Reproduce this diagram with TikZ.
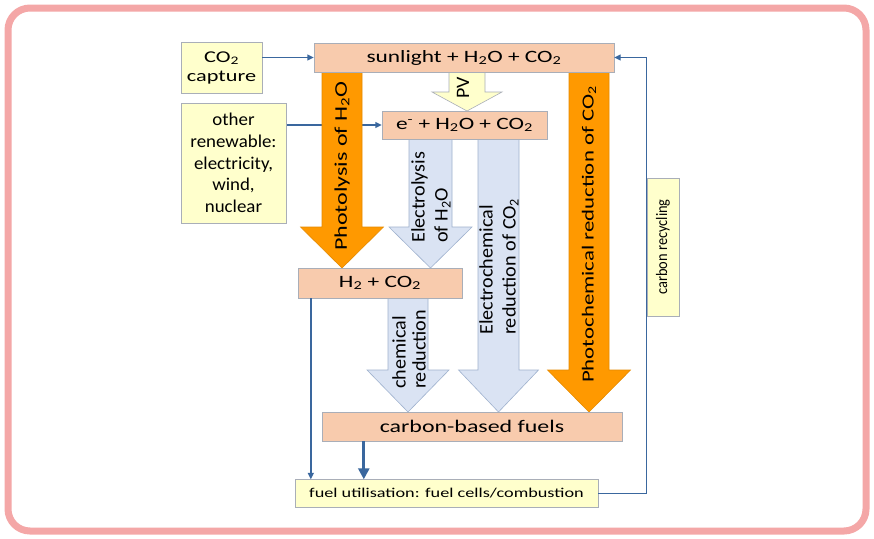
\documentclass[tikz,border=0pt]{standalone}
\usepackage{fontspec}
\setmainfont{Carlito}[FakeStretch=1.35]
\newfontfamily\slimfont{Carlito}[FakeStretch=1.05]
\newfontfamily\tallfont{Carlito}[FakeStretch=0.9]
\usepackage{xcolor}
\usepackage{tikz}
\usetikzlibrary{arrows.meta,backgrounds}
\definecolor{peachfill}{HTML}{F8CBAD}
\definecolor{creamfill}{HTML}{FFFFCC}
\definecolor{paleblue}{HTML}{DAE3F3}
\definecolor{paleedge}{HTML}{9FB2CE}
\definecolor{sunorange}{HTML}{FF9900}
\definecolor{sunedge}{HTML}{E58A00}
\definecolor{linkblue}{HTML}{3A679E}
\definecolor{framepink}{HTML}{F4A7A7}
\definecolor{boxedge}{HTML}{A9AEB8}
\newcommand{\fatarrow}[7]{%
  \draw[#1] (#2-#6,#3) -- (#2-#6,#4) -- (#2-#7,#4) -- (#2,#5)
    -- (#2+#7,#4) -- (#2+#6,#4) -- (#2+#6,#3) -- cycle;}

\begin{document}
\begin{tikzpicture}[
    x=1pt, y=-1pt,
    stage/.style={
      draw=boxedge,
      fill=peachfill,
      inner sep=0pt,
      font=\fontsize{17.3}{21}\selectfont
    },
    source/.style={
      draw=boxedge,
      fill=creamfill,
      inner sep=0pt,
      align=center,
      font=\fontsize{13.5}{17}\selectfont
    },
    route/.style={rotate=90, anchor=west, inner sep=0pt, align=left},
    link/.style={draw=linkblue, line width=1.4pt, -{Triangle[length=6.5pt,width=6pt]}},
    mainlink/.style={draw=linkblue, line width=3.3pt, -{Triangle[length=11pt,width=11pt]}},
    sunpath/.style={draw=sunedge, fill=sunorange, line width=0.6pt},
    elpath/.style={draw=paleedge, fill=paleblue, line width=0.6pt},
    pvpath/.style={draw=boxedge, fill=creamfill, line width=0.6pt},
]
    \useasboundingbox (0,0) rectangle (874,538);

    \node [source, minimum width=81pt, minimum height=51pt, font=\fontsize{16.5}{19}\selectfont] (capture) at (221.5,67.5) {CO\textsubscript{2}\\capture};
    \node [stage, minimum width=300pt, minimum height=29pt] (sun) at (464,57.5) {sunlight + H\textsubscript{2}O + CO\textsubscript{2}};
    \node [source, minimum width=105pt, minimum height=120pt, font=\slimfont\fontsize{18}{21.7}\selectfont] (renew) at (233.5,163) {other\\renewable:\\electricity,\\wind,\\nuclear};
    \node [stage, minimum width=165pt, minimum height=28pt] (elec) at (464.5,125) {e\textsuperscript{-} + H\textsubscript{2}O + CO\textsubscript{2}};
    \node [stage, minimum width=164pt, minimum height=30pt] (hydro) at (380,283) {H\textsubscript{2} + CO\textsubscript{2}};
    \node [stage, minimum width=300pt, minimum height=29pt, font=\fontsize{17.7}{21}\selectfont] (fuels) at (472,426.5) {carbon-based fuels};
    \node [source, minimum width=303pt, minimum height=28pt] (util) at (446.5,493.5) {fuel utilisation: fuel cells/combustion};
    \node [source, rotate=90, minimum width=138pt, minimum height=32pt, font=\tallfont\fontsize{16}{18}\selectfont] (recyc) at (663,247) {carbon recycling};

    \node [route, font=\fontsize{17.8}{22}\selectfont] (photolysis) at (342,251) {Photolysis of H\textsubscript{2}O};
    \node [route, font=\fontsize{16.9}{21}\selectfont] (photored) at (589,383) {Photochemical reduction of CO\textsubscript{2}};
    \node [route, font=\slimfont\fontsize{19.2}{23}\selectfont] (electrolysis) at (431,243) {Electrolysis\\of H\textsubscript{2}O};
    \node [route, font=\slimfont\fontsize{19.2}{23}\selectfont] (electrored) at (499,335) {Electrochemical\\reduction of CO\textsubscript{2}};
    \node [route, font=\slimfont\fontsize{19.2}{20}\selectfont] (chemred) at (409,389) {chemical\\reduction};
    \node [route, font=\slimfont\fontsize{19}{22}\selectfont] (pv) at (463,99) {PV};

    \path [link] (capture.east |- sun.west) -- (sun.west);
    \path [link] ([xshift=13pt]hydro.south west) -- ([xshift=13pt]hydro.south west |- util.north);
    \path [mainlink] ([xshift=42pt]fuels.south west) -- ([xshift=42pt]fuels.south west |- util.north);
    \path [link] (util.east) -- ++(48,0) |- (sun.east);

    \begin{pgfonlayer}{background}
    \draw [framepink, line width=7pt, rounded corners=22pt, fill=white] (8,8) rectangle (866,531);
    \path [link] (renew.east |- elec.west) -- (elec.west);
    \fatarrow{sunpath}{342}{72}{227}{268}{20}{41.5}
    \fatarrow{sunpath}{589}{72}{370}{412}{20}{41.5}
    \fatarrow{elpath}{430.5}{139}{227}{268}{21.5}{41.5}
    \fatarrow{elpath}{498.5}{139}{370}{412}{20.5}{40}
    \fatarrow{elpath}{408}{298}{370}{412}{20}{41}
    \fatarrow{pvpath}{467}{72}{92}{111}{18}{35}
    \end{pgfonlayer}
\end{tikzpicture}
\end{document}
